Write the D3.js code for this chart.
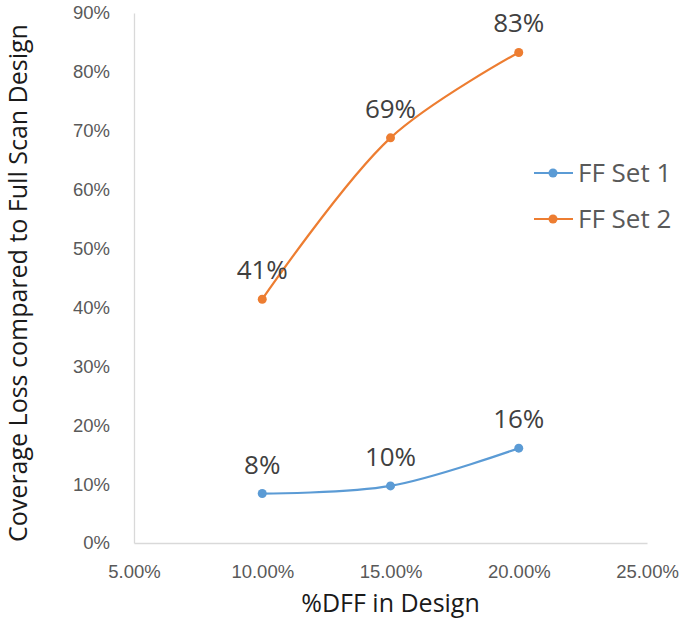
<!DOCTYPE html>
<html>
<head>
<meta charset="utf-8">
<script src="https://cdn.jsdelivr.net/npm/d3@7"></script>
<style>
  html, body { margin: 0; padding: 0; background: #fff; }
  svg { display: block; font-family: "Open Sans", "Noto Sans", sans-serif; }
</style>
</head>
<body>
<svg id="chart" width="684" height="621"></svg>
<script>
// DFF share in design (x) and coverage loss for two flip-flop sets (y, %)
const dffShare = [0.10, 0.15, 0.20];
const ffSet1 = [8.4, 9.7, 16.1];
const ffSet2 = [41.4, 68.8, 83.3];
const seriesNames = ["FF Set 1", "FF Set 2"];
const seriesColors = ["#5B9BD5", "#ED7D31"];
const xTicks = [0.05, 0.10, 0.15, 0.20, 0.25];
const yTicks = [0, 10, 20, 30, 40, 50, 60, 70, 80, 90];

const svg = d3.select("#chart");
const plot = { left: 134, right: 647, top: 13, bottom: 543 };

const x = d3.scaleLinear().domain([0.05, 0.25]).range([plot.left, plot.right]);
const y = d3.scaleLinear().domain([0, 90]).range([plot.bottom, plot.top]);

const tickColor = "#595959";
const axisColor = "#d9d9d9";

// Y axis
const yAxis = svg.append("g")
  .attr("transform", `translate(${plot.left},0)`)
  .call(d3.axisLeft(y).tickValues(yTicks).tickSize(0).tickPadding(24).tickFormat(d => d + "%"));
yAxis.select(".domain").attr("stroke", axisColor).attr("stroke-width", 1.3);
yAxis.selectAll("text").attr("fill", tickColor).style("font-size", "18.5px");

// X axis
const xAxis = svg.append("g")
  .attr("transform", `translate(0,${plot.bottom})`)
  .call(d3.axisBottom(x).tickValues(xTicks).tickSize(0).tickPadding(22).tickFormat(d3.format(".2%")));
xAxis.select(".domain").attr("stroke", axisColor).attr("stroke-width", 1.3);
xAxis.selectAll("text").attr("fill", tickColor).style("font-size", "18.5px");

// Axis titles
svg.append("text")
  .attr("x", x(0.15)).attr("y", 612)
  .attr("text-anchor", "middle")
  .attr("fill", "#1a1a1a")
  .style("font-size", "25px")
  .text("%DFF in Design");

svg.append("text")
  .attr("transform", "translate(27,283) rotate(-90)")
  .attr("text-anchor", "middle")
  .attr("fill", "#1a1a1a")
  .style("font-size", "25px")
  .text("Coverage Loss compared to Full Scan Design");

// Series lines, markers and value labels
const series = [ffSet1, ffSet2].map((vals, i) => ({
  name: seriesNames[i],
  color: seriesColors[i],
  points: dffShare.map((d, j) => ({ x: d, y: vals[j] }))
}));

const line = d3.line()
  .x(d => x(d.x))
  .y(d => y(d.y))
  .curve(d3.curveCatmullRom.alpha(0.5));

series.forEach(s => {
  const g = svg.append("g");
  g.append("path")
    .datum(s.points)
    .attr("fill", "none")
    .attr("stroke", s.color)
    .attr("stroke-width", 2.2)
    .attr("d", line);
  g.selectAll("circle")
    .data(s.points)
    .join("circle")
    .attr("cx", d => x(d.x))
    .attr("cy", d => y(d.y))
    .attr("r", 4.5)
    .attr("fill", s.color);
  g.selectAll("text")
    .data(s.points)
    .join("text")
    .attr("x", d => x(d.x))
    .attr("y", d => y(d.y) - 20)
    .attr("text-anchor", "middle")
    .attr("fill", "#404040")
    .style("font-size", "26px")
    .text(d => Math.round(d.y) + "%");
});

// Legend
const legend = svg.append("g");
series.forEach((s, i) => {
  const ly = 173 + i * 46;
  legend.append("line")
    .attr("x1", 534).attr("x2", 573)
    .attr("y1", ly).attr("y2", ly)
    .attr("stroke", s.color).attr("stroke-width", 2.2);
  legend.append("circle")
    .attr("cx", 553).attr("cy", ly).attr("r", 4.5).attr("fill", s.color);
  legend.append("text")
    .attr("x", 578).attr("y", ly + 9)
    .attr("fill", tickColor)
    .style("font-size", "26px")
    .text(s.name);
});
</script>
</body>
</html>
